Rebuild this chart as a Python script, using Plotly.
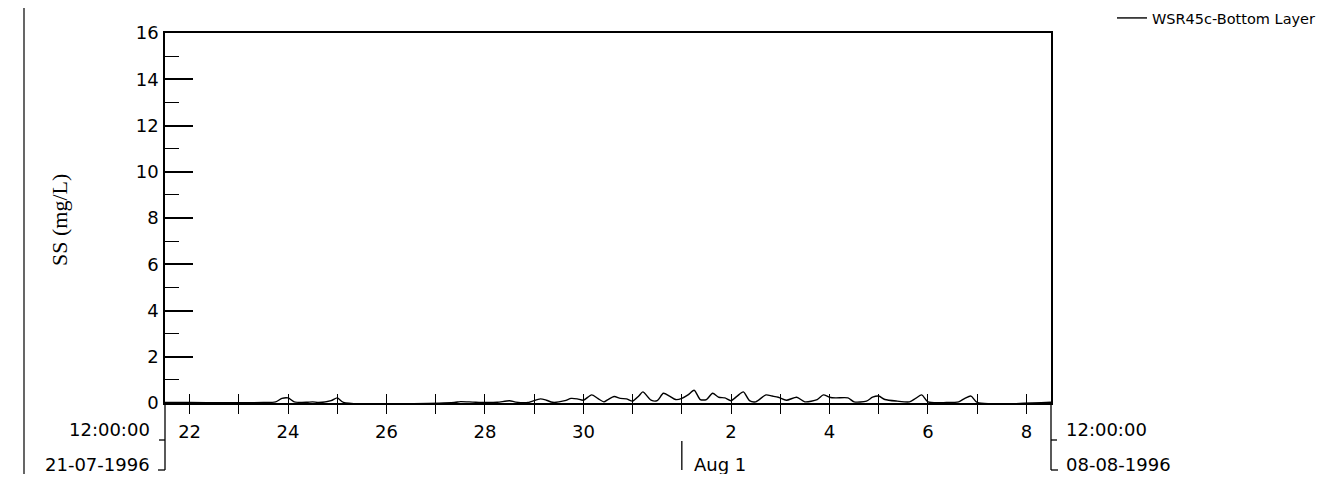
import plotly.graph_objects as go
import pandas as pd

# ---- data ----
TIMES = [
    "1996-07-21 12:00", "1996-07-22 00:00", "1996-07-23 12:00", "1996-07-23 18:00",
    "1996-07-23 21:00", "1996-07-24 00:00", "1996-07-24 03:00", "1996-07-24 09:00",
    "1996-07-24 12:00", "1996-07-24 15:00", "1996-07-24 21:00", "1996-07-25 00:00",
    "1996-07-25 03:00", "1996-07-27 09:00", "1996-07-27 12:00", "1996-07-27 18:00",
    "1996-07-28 00:00", "1996-07-28 06:00", "1996-07-28 12:00", "1996-07-28 15:00",
    "1996-07-28 21:00", "1996-07-29 03:00", "1996-07-29 06:00", "1996-07-29 09:00",
    "1996-07-29 15:00", "1996-07-29 18:00", "1996-07-29 21:00", "1996-07-30 00:00",
    "1996-07-30 04:00", "1996-07-30 07:00", "1996-07-30 10:00", "1996-07-30 12:00",
    "1996-07-30 15:00", "1996-07-30 18:00", "1996-07-30 21:00", "1996-07-31 00:00",
    "1996-07-31 03:00", "1996-07-31 05:00", "1996-07-31 09:00", "1996-07-31 12:00",
    "1996-07-31 15:00", "1996-07-31 18:00", "1996-07-31 21:00", "1996-08-01 00:00",
    "1996-08-01 03:00", "1996-08-01 06:00", "1996-08-01 09:00", "1996-08-01 12:00",
    "1996-08-01 15:00", "1996-08-01 18:00", "1996-08-01 21:00", "1996-08-02 00:00",
    "1996-08-02 03:00", "1996-08-02 06:00", "1996-08-02 09:00", "1996-08-02 12:00",
    "1996-08-02 17:00", "1996-08-02 20:00", "1996-08-02 23:00", "1996-08-03 03:00",
    "1996-08-03 08:00", "1996-08-03 12:00", "1996-08-03 18:00", "1996-08-03 21:00",
    "1996-08-04 00:00", "1996-08-04 03:00", "1996-08-04 09:00", "1996-08-04 12:00",
    "1996-08-04 18:00", "1996-08-04 21:00", "1996-08-05 00:00", "1996-08-05 03:00",
    "1996-08-05 09:00", "1996-08-05 15:00", "1996-08-05 18:00", "1996-08-05 21:00",
    "1996-08-06 00:00", "1996-08-06 09:00", "1996-08-06 15:00", "1996-08-06 18:00",
    "1996-08-06 21:00", "1996-08-07 00:00", "1996-08-08 12:00",
]
SS = [
    0.02, 0.02, 0.02, 0.05,
    0.20, 0.22, 0.05, 0.03,
    0.05, 0.02, 0.10, 0.22,
    0.03, 0.02, 0.06, 0.04,
    0.02, 0.03, 0.10, 0.04,
    0.02, 0.18, 0.12, 0.03,
    0.10, 0.20, 0.18, 0.12,
    0.35, 0.20, 0.05, 0.15,
    0.28, 0.20, 0.18, 0.08,
    0.30, 0.48, 0.12, 0.10,
    0.42, 0.30, 0.15, 0.20,
    0.35, 0.55, 0.15, 0.15,
    0.42, 0.25, 0.22, 0.10,
    0.30, 0.48, 0.10, 0.05,
    0.35, 0.30, 0.25, 0.12,
    0.25, 0.05, 0.15, 0.35,
    0.25, 0.22, 0.22, 0.05,
    0.08, 0.25, 0.30, 0.15,
    0.08, 0.05, 0.20, 0.35,
    0.05, 0.02, 0.05, 0.20,
    0.30, 0.03, 0.03,
]
SERIES_NAME = "WSR45c-Bottom Layer"
Y_TITLE = "SS (mg/L)"

X_START = "1996-07-21 12:00"
X_END = "1996-08-08 12:00"
Y_RANGE = [0, 16]
TICK_DATES = list(pd.date_range("1996-07-22", "1996-08-08", freq="D"))
TICK_LABELS = ["22", "", "24", "", "26", "", "28", "", "30", "", "",
               "2", "", "4", "", "6", "", "8"]
MONTH_MARK = "1996-08-01"
MONTH_LABEL = "Aug 1"
START_TIME, START_DATE = "12:00:00", "21-07-1996"
END_TIME, END_DATE = "12:00:00", "08-08-1996"

# ---- geometry (screen pixels; the page body adds an 8px margin) ----
SCREEN_W, SCREEN_H = 1329, 484
BODY = 8
PLOT_L, PLOT_R, PLOT_T, PLOT_B = 165, 1051, 33, 403
W, H = SCREEN_W - BODY, SCREEN_H - 2 * BODY - 2
ML, MT = PLOT_L - BODY, PLOT_T - BODY
MR = W + BODY - PLOT_R
MB = H + BODY - PLOT_B
PW, PH = PLOT_R - PLOT_L, PLOT_B - PLOT_T


def fx(px):
    return (px - PLOT_L) / PW


def fy(py):
    return (PLOT_B - py) / PH


FONT = "DejaVu Sans"
FS = 18
BLACK = "#000000"

fig = go.Figure()
fig.add_trace(go.Scatter(
    x=pd.to_datetime(TIMES), y=SS, mode="lines", name=SERIES_NAME,
    line=dict(color=BLACK, width=1.4, shape="spline", smoothing=0.7), showlegend=True,
))
# helper trace carrying the upward half of the crossing day ticks
fig.add_trace(go.Scatter(
    x=[X_START, X_END], y=Y_RANGE, mode="none", xaxis="x2",
    showlegend=False, hoverinfo="skip",
))

fig.update_layout(
    width=W, height=H,
    margin=dict(l=ML, r=MR, t=MT, b=MB, pad=0, autoexpand=False),
    paper_bgcolor="white", plot_bgcolor="white",
    font=dict(family=FONT, size=FS, color=BLACK),
    xaxis=dict(
        type="date", range=[X_START, X_END],
        tickmode="array", tickvals=TICK_DATES, ticktext=TICK_LABELS,
        ticks="outside", ticklen=9, tickwidth=1.3, tickcolor=BLACK,
        showline=True, linecolor=BLACK, linewidth=1.6, mirror=True,
        showgrid=False, zeroline=False, ticklabelstandoff=3, automargin=False,
        tickfont=dict(family=FONT, size=FS, color=BLACK),
    ),
    xaxis2=dict(
        type="date", range=[X_START, X_END], overlaying="x", anchor="y", side="bottom",
        tickmode="array", tickvals=TICK_DATES, showticklabels=False,
        ticks="inside", ticklen=9, tickwidth=1.3, tickcolor=BLACK,
        showline=False, showgrid=False, zeroline=False, automargin=False,
    ),
    yaxis=dict(
        range=Y_RANGE, tickmode="linear", tick0=0, dtick=2,
        ticks="inside", ticklen=28, tickwidth=1.5, tickcolor=BLACK,
        minor=dict(ticks="inside", ticklen=14, tickwidth=1.2, tickcolor=BLACK, dtick=1),
        showline=True, linecolor=BLACK, linewidth=1.6, mirror=True,
        showgrid=False, zeroline=False, ticklabelstandoff=1, automargin=False,
        tickfont=dict(family=FONT, size=FS, color=BLACK),
    ),
    showlegend=True,
    legend=dict(
        x=fx(1112), y=fy(18), xanchor="left", yanchor="middle",
        bgcolor="rgba(0,0,0,0)", borderwidth=0, itemwidth=30,
        font=dict(family=FONT, size=14.5, color=BLACK),
    ),
)

annotations = [
    dict(text=Y_TITLE, x=fx(60), y=fy(220), xref="paper", yref="paper",
         xanchor="center", yanchor="middle", textangle=-90, showarrow=False,
         font=dict(family="Liberation Serif", size=22, color=BLACK)),
    dict(text=START_TIME, x=fx(152), y=fy(430), xref="paper", yref="paper",
         xanchor="right", yanchor="middle", showarrow=False),
    dict(text=START_DATE, x=fx(152), y=fy(464), xref="paper", yref="paper",
         xanchor="right", yanchor="middle", showarrow=False),
    dict(text=END_TIME, x=fx(1064), y=fy(430), xref="paper", yref="paper",
         xanchor="left", yanchor="middle", showarrow=False),
    dict(text=END_DATE, x=fx(1064), y=fy(464), xref="paper", yref="paper",
         xanchor="left", yanchor="middle", showarrow=False),
    dict(text=MONTH_LABEL, x=MONTH_MARK, y=fy(464), xref="x", yref="paper",
         xanchor="left", yanchor="middle", xshift=10, showarrow=False),
]
fig.update_layout(annotations=annotations)

line_style = dict(color=BLACK, width=1.3)
shapes = [
    # left date bracket
    dict(type="line", xref="paper", yref="paper", x0=0, x1=0, y0=0, y1=fy(470), line=line_style),
    dict(type="line", xref="paper", yref="paper", x0=fx(159), x1=0, y0=fy(440), y1=fy(440), line=line_style),
    dict(type="line", xref="paper", yref="paper", x0=fx(158), x1=0, y0=fy(470), y1=fy(470), line=line_style),
    # right date bracket
    dict(type="line", xref="paper", yref="paper", x0=1, x1=1, y0=0, y1=fy(470), line=line_style),
    dict(type="line", xref="paper", yref="paper", x0=1, x1=fx(1057), y0=fy(440), y1=fy(440), line=line_style),
    dict(type="line", xref="paper", yref="paper", x0=1, x1=fx(1058), y0=fy(470), y1=fy(470), line=line_style),
    # month marker
    dict(type="line", xref="x", yref="paper", x0=MONTH_MARK, x1=MONTH_MARK,
         y0=fy(441), y1=fy(470), line=line_style),
    # page border lines from the scan
    dict(type="line", xref="paper", yref="paper", x0=fx(24), x1=fx(24), y0=fy(0), y1=fy(484),
         line=dict(color=BLACK, width=1.2)),
    dict(type="line", xref="paper", yref="paper", x0=fx(1324), x1=fx(1324), y0=fy(0), y1=fy(484),
         line=dict(color=BLACK, width=1.5)),
]
fig.update_layout(shapes=shapes)

fig.write_html("out.html")
